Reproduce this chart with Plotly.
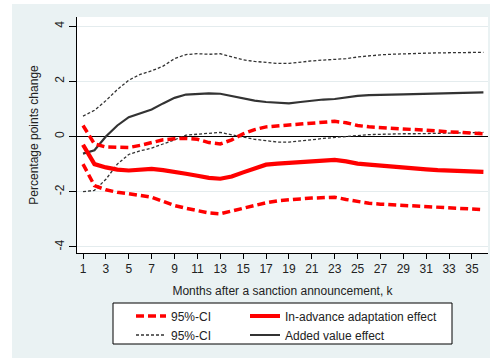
import plotly.graph_objects as go

months = list(range(1, 37))

added_value = [-0.62, -0.5, 0.0, 0.4, 0.7, 0.85, 0.98, 1.2, 1.4, 1.52, 1.55, 1.56,
               1.55, 1.47, 1.38, 1.3, 1.25, 1.22, 1.2, 1.25, 1.3, 1.34, 1.36, 1.42,
               1.47, 1.5, 1.52, 1.52, 1.53, 1.54, 1.55, 1.56, 1.57, 1.58, 1.59, 1.6]
added_upper = [0.74, 0.95, 1.3, 1.7, 2.04, 2.25, 2.38, 2.55, 2.82, 2.97, 3.0, 2.98,
               3.0, 2.9, 2.78, 2.72, 2.68, 2.65, 2.65, 2.7, 2.74, 2.77, 2.8, 2.82,
               2.88, 2.93, 2.96, 2.98, 3.0, 3.0, 3.02, 3.03, 3.04, 3.05, 3.05, 3.05]
added_lower = [-2.0, -1.95, -1.55, -1.0, -0.65, -0.52, -0.42, -0.28, -0.12, 0.05, 0.08, 0.12,
               0.15, 0.06, -0.03, -0.1, -0.15, -0.2, -0.2, -0.17, -0.12, -0.07, -0.03, 0.0,
               0.04, 0.07, 0.08, 0.1, 0.1, 0.1, 0.11, 0.12, 0.13, 0.14, 0.15, 0.15]

adapt = [-0.3, -1.0, -1.12, -1.2, -1.23, -1.2, -1.17, -1.22, -1.3, -1.35, -1.42, -1.5,
         -1.53, -1.45, -1.3, -1.15, -1.02, -0.98, -0.95, -0.92, -0.9, -0.87, -0.85, -0.9,
         -0.98, -1.02, -1.06, -1.1, -1.13, -1.16, -1.19, -1.22, -1.24, -1.25, -1.27, -1.28]
adapt_upper = [0.4, -0.27, -0.38, -0.4, -0.4, -0.32, -0.22, -0.12, -0.08, -0.07, -0.1, -0.22,
               -0.27, -0.12, 0.1, 0.25, 0.35, 0.4, 0.42, 0.45, 0.48, 0.52, 0.55, 0.5,
               0.4, 0.35, 0.33, 0.3, 0.28, 0.25, 0.22, 0.2, 0.17, 0.15, 0.12, 0.1]
adapt_lower = [-1.0, -1.78, -1.93, -2.02, -2.07, -2.12, -2.2, -2.35, -2.5, -2.6, -2.7, -2.77,
               -2.8, -2.7, -2.58, -2.48, -2.4, -2.33, -2.28, -2.26, -2.23, -2.21, -2.2, -2.28,
               -2.36, -2.42, -2.45, -2.47, -2.5, -2.52, -2.55, -2.57, -2.59, -2.61, -2.63, -2.65]

x_ticks = list(range(1, 36, 2))
y_ticks = [-4, -2, 0, 2, 4]

RED = "#FF0000"
DARK = "#333333"
BG = "#EAF2F3"
FONT = "Liberation Sans, Arial, sans-serif"

fig = go.Figure()

# black CI (dotted)
fig.add_trace(go.Scatter(x=months, y=added_upper, mode="lines", name="95%-CI",
                         line=dict(color=DARK, width=1.3, dash="3px,2px"),
                         legend="legend", legendrank=2, showlegend=True))
fig.add_trace(go.Scatter(x=months, y=added_lower, mode="lines", name="95%-CI",
                         line=dict(color=DARK, width=1.3, dash="3px,2px"),
                         legend="legend", showlegend=False))
fig.add_trace(go.Scatter(x=months, y=added_value, mode="lines", name="Added value effect",
                         line=dict(color=DARK, width=2.2),
                         legend="legend2", legendrank=2))
# red CI (dashed)
fig.add_trace(go.Scatter(x=months, y=adapt_upper, mode="lines", name="95%-CI",
                         line=dict(color=RED, width=3.5, dash="8px,4px"),
                         legend="legend", legendrank=1, showlegend=True))
fig.add_trace(go.Scatter(x=months, y=adapt_lower, mode="lines", name="95%-CI",
                         line=dict(color=RED, width=3.5, dash="8px,4px"),
                         legend="legend", showlegend=False))
fig.add_trace(go.Scatter(x=months, y=adapt, mode="lines", name="In-advance adaptation effect",
                         line=dict(color=RED, width=4.2),
                         legend="legend2", legendrank=1))

W, H = 490, 358
L, R, T, B = 77, 2, 17, 105
pw, ph = W - L - R, H - T - B

def px_x(p):
    return (p - L) / pw

def px_y(p):
    return (H - B - p) / ph

shapes = [
    # white outer strips (left and top)
    dict(type="rect", xref="paper", yref="paper", x0=px_x(0), x1=px_x(12), y0=px_y(H), y1=px_y(0),
         fillcolor="white", line=dict(width=0), layer="below"),
    dict(type="rect", xref="paper", yref="paper", x0=px_x(0), x1=px_x(W), y0=px_y(4), y1=px_y(0),
         fillcolor="white", line=dict(width=0), layer="below"),
    # legend box
    dict(type="rect", xref="paper", yref="paper", x0=px_x(113), x1=px_x(452), y0=px_y(344), y1=px_y(303),
         fillcolor="white", line=dict(color="black", width=1), layer="below"),
]

leg_common = dict(bgcolor="rgba(0,0,0,0)", borderwidth=0, orientation="v",
                  font=dict(family=FONT, size=12, color="#222222"),
                  xanchor="left", yanchor="top", tracegroupgap=0)

fig.update_layout(
    width=W, height=H,
    margin=dict(l=L, r=R, t=T, b=B, autoexpand=False),
    paper_bgcolor=BG,
    plot_bgcolor="white",
    font=dict(family=FONT, size=12, color="#222222"),
    shapes=shapes,
    legend=dict(x=px_x(131), y=px_y(301.5), **leg_common),
    legend2=dict(x=px_x(245), y=px_y(301.5), **leg_common),
    xaxis=dict(range=[0.475, 36.4], tickmode="array", tickvals=x_ticks,
               ticks="outside", ticklen=5, tickcolor="black", showgrid=False,
               showline=True, linecolor="black", linewidth=1, zeroline=False,
               automargin=False,
               title=dict(text="Months after a sanction announcement, k", standoff=11,
                          font=dict(size=12)),
               tickfont=dict(size=12)),
    yaxis=dict(range=[-4.22, 4.33], tickmode="array", tickvals=y_ticks,
               ticktext=[str(v) for v in y_ticks], tickangle=-90,
               ticks="outside", ticklen=7, tickcolor="black",
               showgrid=True, gridcolor="#E4ECEE", gridwidth=1,
               zeroline=True, zerolinecolor="black", zerolinewidth=1,
               showline=True, linecolor="black", linewidth=1,
               automargin=False,
               title=dict(text="Percentage points change", standoff=12, font=dict(size=12)),
               tickfont=dict(size=12)),
)

fig.write_html("out.html", config={"displayModeBar": False},
               post_script="document.body.style.margin='0';")
